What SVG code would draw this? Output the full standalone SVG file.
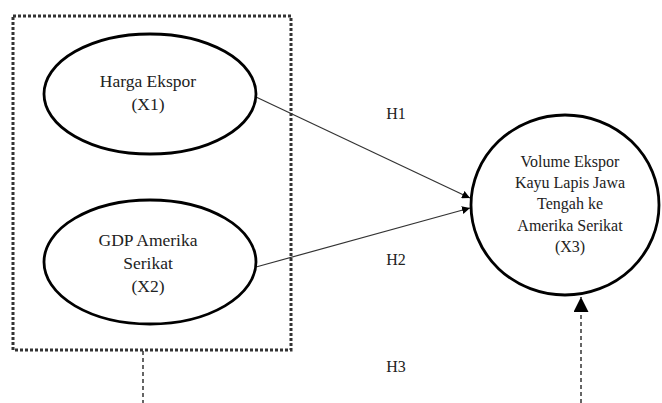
<svg xmlns="http://www.w3.org/2000/svg" width="662" height="403" viewBox="0 0 662 403">
<style>
text{font-family:"Liberation Serif","Times New Roman",serif;fill:#222;text-anchor:middle}
.l{font-size:17.5px}
.r{font-size:16px}
.h{font-size:16px}
.node{fill:#fff;stroke:#000;stroke-width:2.8}
.solid{stroke:#333;stroke-width:1.2;fill:none}
.dash{stroke:#333;stroke-width:1.5;stroke-dasharray:4,3;fill:none}
</style>
<defs>
<marker id="sa" viewBox="0 0 10 10" refX="10" refY="5" markerWidth="8" markerHeight="8" markerUnits="userSpaceOnUse" orient="auto">
<path d="M0,0 L10,5 L0,10 z" fill="#000"/>
</marker>
<marker id="la" viewBox="0 0 10 10" refX="10" refY="5" markerWidth="15" markerHeight="15" markerUnits="userSpaceOnUse" orient="auto">
<path d="M0,0 L10,5 L0,10 z" fill="#000"/>
</marker>
</defs>
<g id="group-box">
<rect x="13" y="16" width="278" height="334" fill="none" stroke="#333" stroke-width="3" stroke-dasharray="3,2"/>
</g>
<g id="connectors">
<line class="solid" x1="256" y1="97" x2="470" y2="198" marker-end="url(#sa)"/>
<line class="solid" x1="256" y1="267" x2="470" y2="208" marker-end="url(#sa)"/>
<line class="dash" x1="143" y1="351" x2="143" y2="403"/>
<line class="dash" x1="581" y1="403" x2="581" y2="297" marker-end="url(#la)"/>
</g>
<g id="x1">
<ellipse class="node" cx="150" cy="94" rx="106" ry="60"/>
<text class="l" x="148" y="87">Harga Ekspor</text>
<text class="l" x="148" y="110">(X1)</text>
</g>
<g id="x2">
<ellipse class="node" cx="150" cy="262" rx="106" ry="62"/>
<text class="l" x="148" y="246">GDP Amerika</text>
<text class="l" x="148" y="269">Serikat</text>
<text class="l" x="148" y="292">(X2)</text>
</g>
<g id="x3">
<ellipse class="node" cx="565" cy="205" rx="94" ry="90"/>
<text class="r" x="570" y="167">Volume Ekspor</text>
<text class="r" x="570" y="188">Kayu Lapis Jawa</text>
<text class="r" x="570" y="209">Tengah ke</text>
<text class="r" x="570" y="231">Amerika Serikat</text>
<text class="r" x="570" y="252">(X3)</text>
</g>
<g id="labels">
<text class="h" x="396" y="119">H1</text>
<text class="h" x="396" y="265">H2</text>
<text class="h" x="396" y="372">H3</text>
</g>
</svg>
